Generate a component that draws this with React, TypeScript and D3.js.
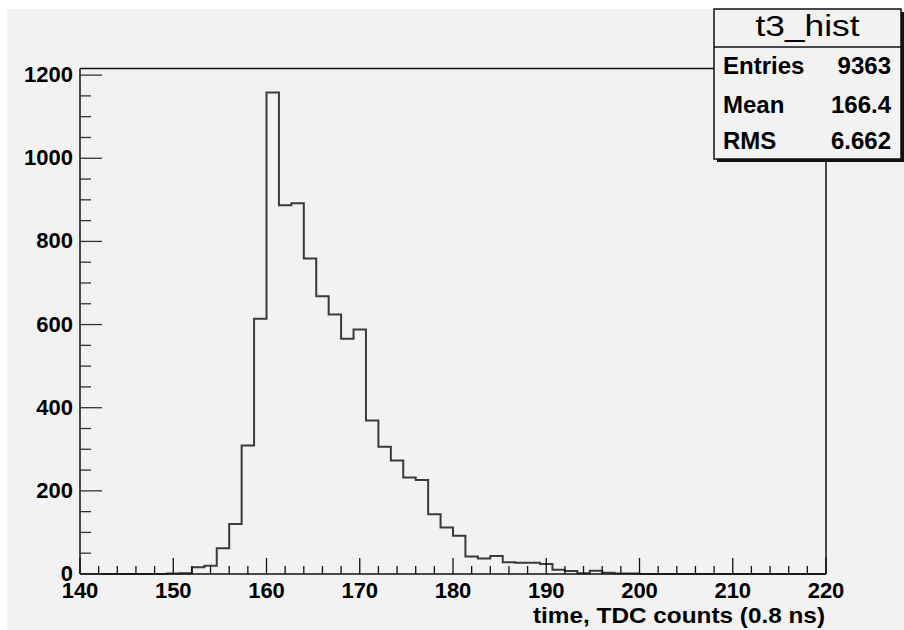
import React from "react";
import * as d3 from "d3";

const binCounts: number[] = [
  0, 0, 0, 0, 0, 0, 0, 1, 2, 16,
  20, 62, 120, 309, 614, 1158, 887, 892, 759, 668,
  624, 566, 588, 369, 306, 273, 232, 226, 144, 112,
  92, 42, 37, 43, 28, 27, 27, 24, 10, 7,
  2, 8, 3, 1, 1, 0, 0, 0, 0, 0,
  0, 0, 0, 0, 0, 0, 0, 0, 0, 0,
];
const xMin = 140;
const xMax = 220;
const xTickLabels: number[] = [140, 150, 160, 170, 180, 190, 200, 210, 220];
const yTickLabels: number[] = [0, 200, 400, 600, 800, 1000, 1200];
const statsTitle = "t3_hist";
const statsNames: string[] = ["Entries", "Mean", "RMS"];
const statsValues: string[] = ["9363", "166.4", "6.662"];
const xTitle = "time, TDC counts (0.8 ns)";

const FONT = "'Liberation Sans', Arial, Helvetica, sans-serif";

export default function App() {
  const left = 80, right = 826, top = 68.5, bottom = 574;
  const yMax = d3.max(binCounts)! * 1.05;
  const x = d3.scaleLinear().domain([xMin, xMax]).range([left, right]);
  const y = d3.scaleLinear().domain([0, yMax]).range([bottom, top]);
  const nb = binCounts.length;
  const bw = (xMax - xMin) / nb;

  let d = `M${x(xMin)},${y(0)}`;
  binCounts.forEach((v, i) => {
    d += `V${y(v)}H${x(xMin + (i + 1) * bw)}`;
  });
  d += `V${y(0)}`;

  const xMinor = d3.range(xMin, xMax + 0.001, 2).filter((v) => Math.abs(v % 10) > 0.01);
  const yMinor = d3.range(0, yMax, 50).filter((v) => v % 200 !== 0);

  const box = { x0: 714, y0: 9, x1: 901, y1: 159, div: 47 };
  const rowsY = [74, 113, 149];

  return (
    <svg
      width={904}
      height={630}
      style={{ position: "absolute", left: 0, top: 0 }}
      fontFamily={FONT}
    >
      <rect x={0} y={0} width={904} height={630} fill="#ffffff" />
      <rect x={7} y={9} width={897} height={621} fill="#f2f2f2" />

      {/* histogram */}
      <path d={d} fill="none" stroke="#3a3a3a" strokeWidth={2} />

      {/* frame */}
      <line x1={left} x2={box.x0} y1={top} y2={top} stroke="#111" strokeWidth={1.5} />
      <line x1={right} x2={right} y1={box.y1} y2={bottom} stroke="#111" strokeWidth={1.5} />
      <line x1={left} x2={left} y1={top} y2={bottom} stroke="#111" strokeWidth={1.5} />
      <line x1={left} x2={right} y1={bottom} y2={bottom} stroke="#111" strokeWidth={1.5} />

      {/* x ticks */}
      {xTickLabels.map((v) => (
        <line key={"xt" + v} x1={x(v)} x2={x(v)} y1={bottom} y2={bottom - 16} stroke="#111" strokeWidth={1.3} />
      ))}
      {xMinor.map((v) => (
        <line key={"xm" + v} x1={x(v)} x2={x(v)} y1={bottom} y2={bottom - 8} stroke="#111" strokeWidth={1.3} />
      ))}
      {xTickLabels.map((v) => (
        <text key={"xl" + v} x={x(v)} y={598} textAnchor="middle" fontSize={22} fontWeight="bold" fill="#000">
          {v}
        </text>
      ))}

      {/* y ticks */}
      {yTickLabels.map((v) => (
        <line key={"yt" + v} x1={left} x2={left + 22} y1={y(v)} y2={y(v)} stroke="#333" strokeWidth={1.3} />
      ))}
      {yMinor.map((v) => (
        <line key={"ym" + v} x1={left} x2={left + 11} y1={y(v)} y2={y(v)} stroke="#333" strokeWidth={1.3} />
      ))}
      {yTickLabels.map((v) => (
        <text key={"yl" + v} x={73} y={y(v) + 7} textAnchor="end" fontSize={22} fontWeight="bold" fill="#000">
          {v}
        </text>
      ))}

      <text x={825} y={623} textAnchor="end" fontSize={22} fontWeight="bold" fill="#000"
        textLength={292} lengthAdjust="spacingAndGlyphs">
        {xTitle}
      </text>

      {/* stats box */}
      <rect x={box.x0 + 3} y={box.y0 + 3} width={box.x1 - box.x0} height={box.y1 - box.y0} fill="#111" />
      <rect x={box.x0} y={box.y0} width={box.x1 - box.x0} height={box.y1 - box.y0} fill="#f2f2f2" stroke="#111" strokeWidth={1.5} />
      <line x1={box.x0} x2={box.x1} y1={box.div} y2={box.div} stroke="#111" strokeWidth={1.5} />
      <text x={(box.x0 + box.x1) / 2} y={36} textAnchor="middle" fontSize={30} fill="#000"
        textLength={104} lengthAdjust="spacingAndGlyphs">
        {statsTitle}
      </text>
      {statsNames.map((n, i) => (
        <g key={n}>
          <text x={723} y={rowsY[i]} fontSize={24} fontWeight="bold" fill="#000">
            {n}
          </text>
          <text x={891} y={rowsY[i]} textAnchor="end" fontSize={24} fontWeight="bold" fill="#000">
            {statsValues[i]}
          </text>
        </g>
      ))}
    </svg>
  );
}
